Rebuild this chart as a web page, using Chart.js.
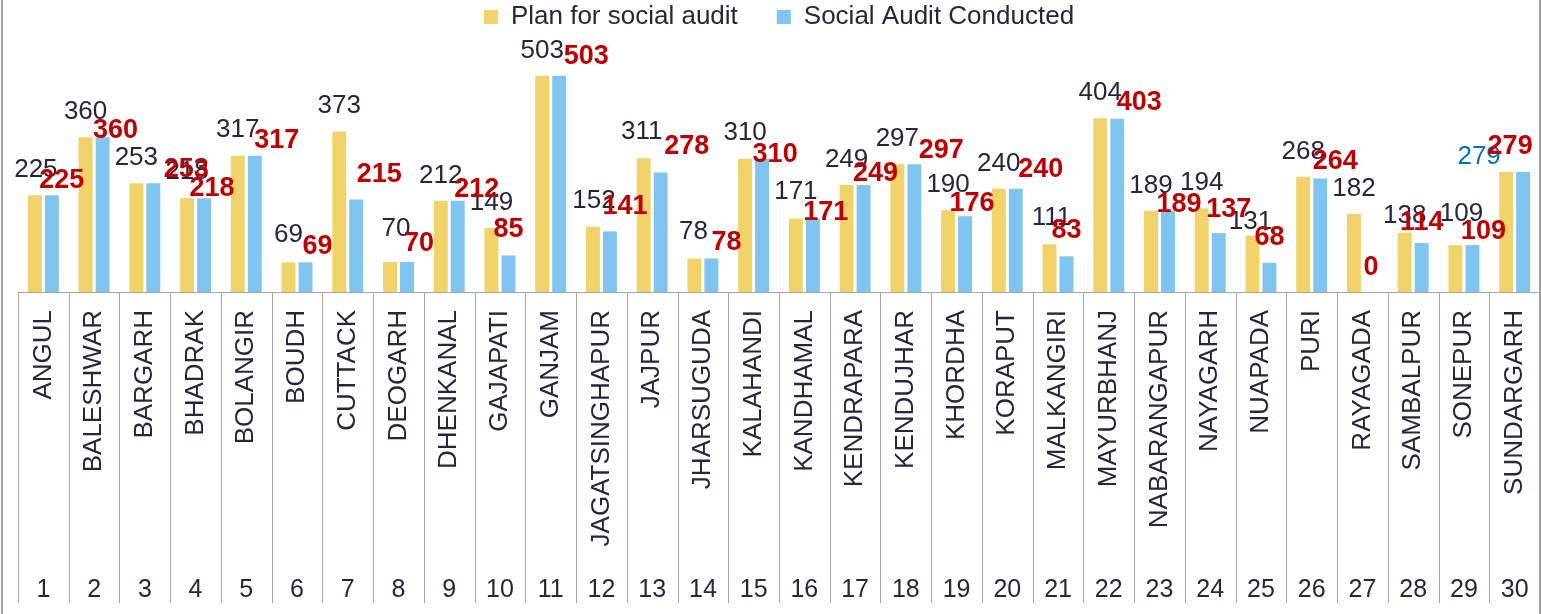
<!DOCTYPE html>
<html>
<head>
<meta charset="utf-8">
<script src="https://cdn.jsdelivr.net/npm/chart.js@4"></script>
<style>
  body { margin: 0; background: #fff; }
  canvas { display: block; }
</style>
</head>
<body>
<canvas id="auditChart" width="1541" height="614"></canvas>
<script>
const districts = ['ANGUL', 'BALESHWAR', 'BARGARH', 'BHADRAK', 'BOLANGIR', 'BOUDH', 'CUTTACK', 'DEOGARH',
    'DHENKANAL', 'GAJAPATI', 'GANJAM', 'JAGATSINGHAPUR', 'JAJPUR', 'JHARSUGUDA', 'KALAHANDI', 'KANDHAMAL',
    'KENDRAPARA', 'KENDUJHAR', 'KHORDHA', 'KORAPUT', 'MALKANGIRI', 'MAYURBHANJ', 'NABARANGAPUR', 'NAYAGARH',
    'NUAPADA', 'PURI', 'RAYAGADA', 'SAMBALPUR', 'SONEPUR', 'SUNDARGARH'];
const serialNos = ['1', '2', '3', '4', '5', '6', '7', '8', '9', '10', '11', '12', '13', '14', '15',
    '16', '17', '18', '19', '20', '21', '22', '23', '24', '25', '26', '27', '28', '29', '30'];
const planned = [225, 360, 253, 218, 317, 69, 373, 70, 212, 149, 503, 152, 311, 78, 310,
    171, 249, 297, 190, 240, 111, 404, 189, 194, 131, 268, 182, 138, 109, 279];
const conducted = [225, 360, 253, 218, 317, 69, 215, 70, 212, 85, 503, 141, 278, 78, 310,
    171, 249, 297, 176, 240, 83, 403, 189, 137, 68, 264, 0, 114, 109, 279];

// hand-placed data labels in the original: offsets from each bar top (px)
const planLabelDx = [1, 0, 0, 0, 0, 0, 0, 6, 0, 0, 0, 1, -2, -1, 0, 0, 0, 0, 0, 0, 2, 0, 0, 0, -2, 0, 0, 0, 6, -27];
const planLabelDy = [18, 18, 18, 19, 19, 20, 19, 26, 18, 18, 18, 19, 19, 19, 19, 19, 18, 18, 18, 18, 19, 18, 18, 19, 7, 18, 18, 10, 24, 8];
const doneLabelDx = [10, 13, 33, 8, 22, 12, 23, 12, 19, 0, 27, 15, 26, 15, 13, 13, 12, 27, 7, 25, 0, 22, 11, 10, 0, 15, 0, 0, 11, -13];
const doneLabelDy = [7, -1, 6, 2, 8, 8, 18, 11, 4, 18, 12, 17, 18, 8, -3, -2, 4, 6, 5, 12, 18, 9, -1, 16, 18, 9, 17, 13, 6, 18];

const darkText = '#262641';
const gridGray = '#a6a6a6';
const font = '"Liberation Sans", Arial, sans-serif';

const valueLabels = {
    id: 'valueLabels',
    afterDatasetsDraw(chart) {
        const ctx = chart.ctx;
        ctx.save();
        ctx.textAlign = 'center';
        ctx.textBaseline = 'alphabetic';

        ctx.font = '26px ' + font;
        chart.getDatasetMeta(0).data.forEach(function (bar, i) {
            ctx.fillStyle = i === 29 ? '#0070c0' : darkText;
            ctx.fillText(planned[i], bar.x + planLabelDx[i], bar.y - planLabelDy[i]);
        });

        ctx.font = 'bold 27px ' + font;
        ctx.fillStyle = '#c00000';
        chart.getDatasetMeta(1).data.forEach(function (bar, i) {
            ctx.fillText(conducted[i], bar.x + doneLabelDx[i], bar.y - doneLabelDy[i]);
        });
        ctx.restore();
    }
};

// two-row category axis (names + serial numbers) with separators, plus the outer frame
const categoryRows = {
    id: 'categoryRows',
    afterDraw(chart) {
        const ctx = chart.ctx;
        const area = chart.chartArea;
        const xs = chart.scales.x;
        const centers = districts.map((d, i) => xs.getPixelForValue(i));
        const bottom = 603;

        ctx.save();
        ctx.strokeStyle = gridGray;
        ctx.lineWidth = 1;
        for (let i = 0; i <= centers.length; i++) {
            let x;
            if (i === 0) x = area.left;
            else if (i === centers.length) x = area.right;
            else x = (centers[i - 1] + centers[i]) / 2;
            x = Math.round(x) + 0.5;
            ctx.beginPath();
            ctx.moveTo(x, area.bottom);
            ctx.lineTo(x, bottom);
            ctx.stroke();
        }

        ctx.fillStyle = darkText;
        ctx.font = '26px ' + font;
        ctx.textAlign = 'right';
        ctx.textBaseline = 'middle';
        centers.forEach(function (cx, i) {
            ctx.save();
            ctx.translate(cx, area.bottom + 18);
            ctx.rotate(-Math.PI / 2);
            ctx.fillText(districts[i], 0, 0);
            ctx.restore();
        });

        ctx.font = '25px ' + font;
        ctx.textAlign = 'center';
        ctx.textBaseline = 'alphabetic';
        centers.forEach(function (cx, i) {
            ctx.fillText(serialNos[i], cx, 597);
        });

        // chart frame
        ctx.strokeStyle = '#a0a0a0';
        ctx.lineWidth = 2;
        ctx.beginPath();
        ctx.moveTo(2, 0);
        ctx.lineTo(2, chart.height);
        ctx.moveTo(1540, 0);
        ctx.lineTo(1540, chart.height);
        ctx.stroke();
        ctx.restore();
    }
};

const whiteBg = {
    id: 'whiteBg',
    beforeDraw(chart) {
        const ctx = chart.ctx;
        ctx.save();
        ctx.fillStyle = '#ffffff';
        ctx.fillRect(0, 0, chart.width, chart.height);
        ctx.restore();
    }
};

new Chart(document.getElementById('auditChart'), {
    type: 'bar',
    data: {
        labels: districts,
        datasets: [{
            label: 'Plan for social audit',
            data: planned,
            backgroundColor: '#f2d36a',
            categoryPercentage: 0.67,
            barPercentage: 0.82
        }, {
            label: 'Social Audit Conducted',
            data: conducted,
            backgroundColor: '#7fc5f0',
            categoryPercentage: 0.67,
            barPercentage: 0.82
        }]
    },
    options: {
        responsive: false,
        animation: false,
        layout: {
            padding: { top: -35, left: 18, right: 1, bottom: 314 }
        },
        plugins: {
            legend: {
                position: 'top',
                labels: {
                    boxWidth: 14,
                    boxHeight: 14,
                    padding: 39,
                    color: darkText,
                    font: { family: font, size: 26 }
                }
            },
            tooltip: { enabled: false }
        },
        scales: {
            x: {
                grid: { display: false },
                ticks: { display: false },
                border: { display: true, color: gridGray, width: 1 }
            },
            y: {
                display: false,
                min: 0,
                max: 586
            }
        }
    },
    plugins: [whiteBg, valueLabels, categoryRows]
});
</script>
</body>
</html>
